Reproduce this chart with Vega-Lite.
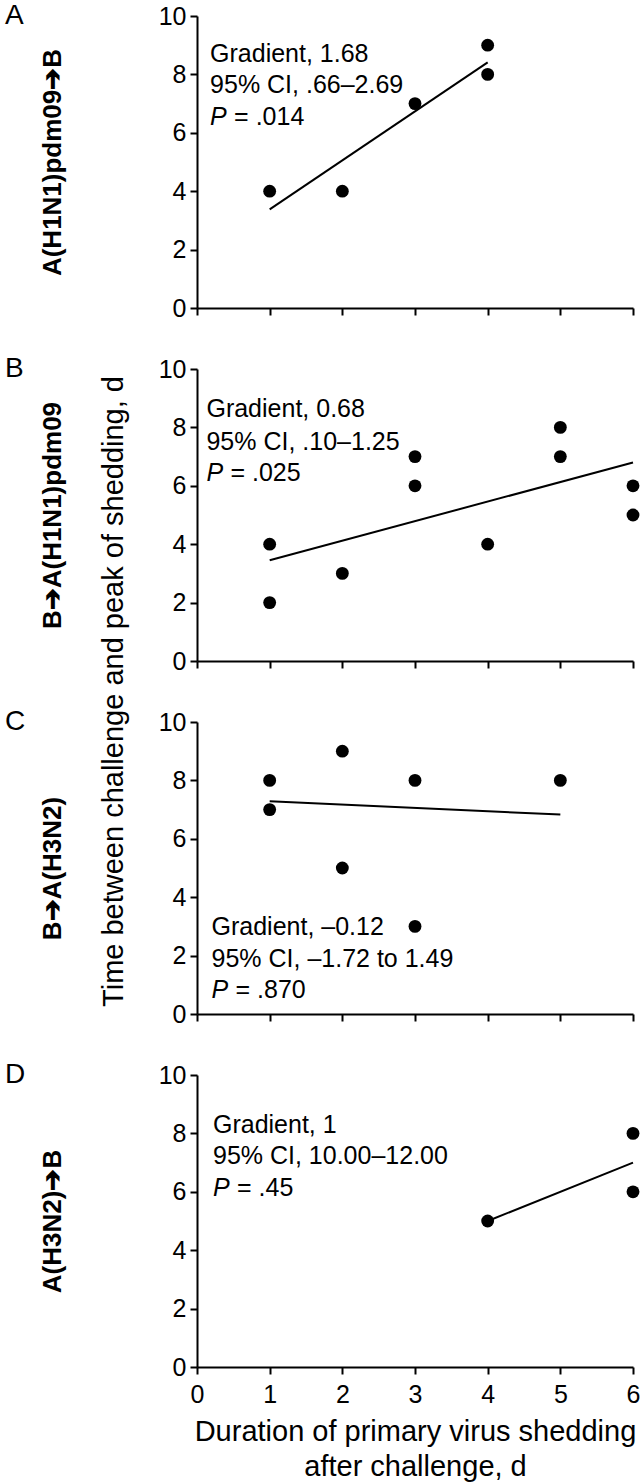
{
  "$schema": "https://vega.github.io/schema/vega-lite/v6.json",
  "background": "white",
  "padding": {"left": 5, "top": 2, "right": 4, "bottom": 4},
  "bounds": "flush",
  "spacing": 61,
  "config": {
    "view": {"stroke": null},
    "font": "Liberation Sans",
    "axis": {"domainColor": "black", "domainWidth": 2, "tickColor": "black", "tickWidth": 2, "tickSize": 7, "labelFontSize": 25, "labelColor": "black", "labelFont": "Liberation Sans", "titleFont": "Liberation Sans", "titleColor": "black", "grid": false, "labelPadding": 4, "labelFlush": false},
    "axisX": {"labelPadding": 8},
    "axisY": {"titleFontWeight": "bold", "titleFontSize": 26, "titleX": -145, "titleBaseline": "middle", "titleAlign": "center"},
    "title": {"anchor": "start", "frame": "group", "dx": -192, "dy": 30, "offset": 0, "fontSize": 28, "fontWeight": "normal", "baseline": "alphabetic", "color": "black", "font": "Liberation Sans"},
    "text": {"font": "Liberation Sans", "fontSize": 25, "align": "left", "baseline": "middle", "color": "black"}
  },
  "vconcat": [
    {
      "width": 436, "height": 292,
      "title": {"text": "A"},
      "encoding": {
        "x": {"field": "x", "type": "quantitative", "scale": {"domain": [0, 6], "nice": false, "zero": false}, "axis": {"values": [0, 1, 2, 3, 4, 5, 6], "labels": false, "title": null}},
        "y": {"field": "y", "type": "quantitative", "scale": {"domain": [0, 10], "nice": false}, "axis": {"values": [0, 2, 4, 6, 8, 10], "title": "A(H1N1)pdm09➔B"}}
      },
      "layer": [
        {"data": {"values": [{"x": 1, "y": 3.38}, {"x": 4, "y": 8.41}]}, "mark": {"type": "line", "color": "black", "strokeWidth": 2}, "encoding": {}},
        {"data": {"values": [{"x": 1, "y": 4}, {"x": 2, "y": 4}, {"x": 3, "y": 7}, {"x": 4, "y": 9}, {"x": 4, "y": 8}]}, "mark": {"type": "circle", "color": "black", "size": 165, "opacity": 1}},
        {"data": {"values": [{"x": 0.18, "y": 8.69, "text": "Gradient, 1.68"}, {"x": 0.18, "y": 7.63, "text": "95% CI, .66–2.69"}]}, "mark": {"type": "text"}, "encoding": {"text": {"field": "text"}}},
        {"data": {"values": [{"x": 0.18, "y": 6.53, "p": "P", "rest": "= .014"}]}, "mark": {"type": "text", "fontStyle": "italic"}, "encoding": {"text": {"field": "p"}}},
        {"data": {"values": [{"x": 0.18, "y": 6.53, "p": "P", "rest": "= .014"}]}, "mark": {"type": "text", "dx": 24}, "encoding": {"text": {"field": "rest"}}}
      ]
    },
    {
      "width": 436, "height": 292,
      "title": {"text": "B"},
      "encoding": {
        "x": {"field": "x", "type": "quantitative", "scale": {"domain": [0, 6], "nice": false, "zero": false}, "axis": {"values": [0, 1, 2, 3, 4, 5, 6], "labels": false, "title": "Time between challenge and peak of shedding, d", "titleAngle": 270, "titleX": -84, "titleY": 30, "titleAlign": "center", "titleBaseline": "middle", "titleFontSize": 29, "titleFontWeight": "normal"}},
        "y": {"field": "y", "type": "quantitative", "scale": {"domain": [0, 10], "nice": false}, "axis": {"values": [0, 2, 4, 6, 8, 10], "title": "B➔A(H1N1)pdm09"}}
      },
      "layer": [
        {"data": {"values": [{"x": 1, "y": 3.45}, {"x": 6, "y": 6.8}]}, "mark": {"type": "line", "color": "black", "strokeWidth": 2}, "encoding": {}},
        {"data": {"values": [{"x": 1, "y": 4}, {"x": 1, "y": 2}, {"x": 2, "y": 3}, {"x": 3, "y": 7}, {"x": 3, "y": 6}, {"x": 4, "y": 4}, {"x": 5, "y": 8}, {"x": 5, "y": 7}, {"x": 6, "y": 6}, {"x": 6, "y": 5}]}, "mark": {"type": "circle", "color": "black", "size": 165, "opacity": 1}},
        {"data": {"values": [{"x": 0.13, "y": 8.64, "text": "Gradient, 0.68"}, {"x": 0.13, "y": 7.51, "text": "95% CI, .10–1.25"}]}, "mark": {"type": "text"}, "encoding": {"text": {"field": "text"}}},
        {"data": {"values": [{"x": 0.13, "y": 6.43, "p": "P", "rest": "= .025"}]}, "mark": {"type": "text", "fontStyle": "italic"}, "encoding": {"text": {"field": "p"}}},
        {"data": {"values": [{"x": 0.13, "y": 6.43, "p": "P", "rest": "= .025"}]}, "mark": {"type": "text", "dx": 24}, "encoding": {"text": {"field": "rest"}}}
      ]
    },
    {
      "width": 436, "height": 292,
      "title": {"text": "C"},
      "encoding": {
        "x": {"field": "x", "type": "quantitative", "scale": {"domain": [0, 6], "nice": false, "zero": false}, "axis": {"values": [0, 1, 2, 3, 4, 5, 6], "labels": false, "title": null}},
        "y": {"field": "y", "type": "quantitative", "scale": {"domain": [0, 10], "nice": false}, "axis": {"values": [0, 2, 4, 6, 8, 10], "title": "B➔A(H3N2)"}}
      },
      "layer": [
        {"data": {"values": [{"x": 1, "y": 7.29}, {"x": 5, "y": 6.83}]}, "mark": {"type": "line", "color": "black", "strokeWidth": 2}, "encoding": {}},
        {"data": {"values": [{"x": 1, "y": 8}, {"x": 1, "y": 7}, {"x": 2, "y": 9}, {"x": 2, "y": 5}, {"x": 3, "y": 8}, {"x": 3, "y": 3}, {"x": 5, "y": 8}]}, "mark": {"type": "circle", "color": "black", "size": 165, "opacity": 1}},
        {"data": {"values": [{"x": 0.2, "y": 2.97, "text": "Gradient, –0.12"}, {"x": 0.2, "y": 1.88, "text": "95% CI, –1.72 to 1.49"}]}, "mark": {"type": "text"}, "encoding": {"text": {"field": "text"}}},
        {"data": {"values": [{"x": 0.2, "y": 0.81, "p": "P", "rest": "= .870"}]}, "mark": {"type": "text", "fontStyle": "italic"}, "encoding": {"text": {"field": "p"}}},
        {"data": {"values": [{"x": 0.2, "y": 0.81, "p": "P", "rest": "= .870"}]}, "mark": {"type": "text", "dx": 24}, "encoding": {"text": {"field": "rest"}}}
      ]
    },
    {
      "width": 436, "height": 292,
      "title": {"text": "D"},
      "encoding": {
        "x": {"field": "x", "type": "quantitative", "scale": {"domain": [0, 6], "nice": false, "zero": false}, "axis": {"values": [0, 1, 2, 3, 4, 5, 6], "labels": true, "format": "d", "title": ["Duration of primary virus shedding", "after challenge, d"], "titleFontSize": 29, "titleFontWeight": "normal", "titleLineHeight": 35, "titlePadding": 10}},
        "y": {"field": "y", "type": "quantitative", "scale": {"domain": [0, 10], "nice": false}, "axis": {"values": [0, 2, 4, 6, 8, 10], "title": "A(H3N2)➔B"}}
      },
      "layer": [
        {"data": {"values": [{"x": 4, "y": 5}, {"x": 6, "y": 7}]}, "mark": {"type": "line", "color": "black", "strokeWidth": 2}, "encoding": {}},
        {"data": {"values": [{"x": 4, "y": 5}, {"x": 6, "y": 8}, {"x": 6, "y": 6}]}, "mark": {"type": "circle", "color": "black", "size": 165, "opacity": 1}},
        {"data": {"values": [{"x": 0.22, "y": 8.28, "text": "Gradient, 1"}, {"x": 0.22, "y": 7.22, "text": "95% CI, 10.00–12.00"}]}, "mark": {"type": "text"}, "encoding": {"text": {"field": "text"}}},
        {"data": {"values": [{"x": 0.22, "y": 6.14, "p": "P", "rest": "= .45"}]}, "mark": {"type": "text", "fontStyle": "italic"}, "encoding": {"text": {"field": "p"}}},
        {"data": {"values": [{"x": 0.22, "y": 6.14, "p": "P", "rest": "= .45"}]}, "mark": {"type": "text", "dx": 24}, "encoding": {"text": {"field": "rest"}}}
      ]
    }
  ]
}
